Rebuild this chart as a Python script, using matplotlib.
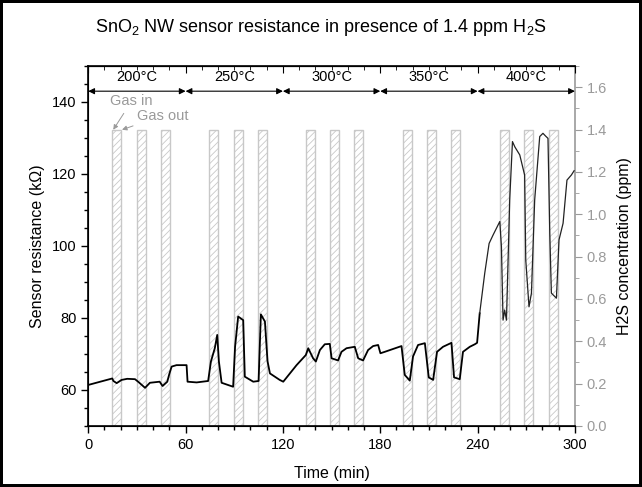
import numpy as np
import matplotlib
matplotlib.use('Agg')
from matplotlib import pyplot as plt
from matplotlib.ticker import MultipleLocator

plt.rcParams['font.family'] = ['Liberation Sans', 'DejaVu Sans']
plt.rcParams['mathtext.default'] = 'regular'
plt.rcParams['hatch.linewidth'] = 0.6

# resistance trace (time in min, resistance in kOhm)
t_min = [0, 14.8, 15.5, 17.5, 20.6, 24, 28.8, 31, 35, 38, 44, 45.8, 48.7, 50, 51.4, 54.4, 60.6,
         61.2, 66.8, 73.9, 75.6, 78, 79.5, 80.5, 82.2, 89.3, 90.5, 92.4, 95.5, 96.5, 101.7,
         105, 106.4, 108.9, 110.5, 112, 118, 120.2, 124.3, 128.4, 134.1, 135.6, 138.6,
         140.3, 142.8, 145.8, 148.9, 150, 154, 156.1, 159.2, 164.3, 166.4, 169.4, 172.5,
         175.6, 178.7, 180.1, 182.8, 193.1, 195.1, 198.2, 200.2, 203.3, 207.5, 209.9, 212.6,
         215, 218.7, 223.9, 225.5, 229, 231, 235.2, 238.3, 239.7, 241.3, 244.4, 247.1, 249.5,
         253.7, 254.7, 255.7, 256.7, 257.8, 259.8, 261.5, 263, 266, 269, 269.7, 271.7, 273.2,
         275.2, 278.3, 280.3, 282, 283.4, 284.5, 285.5, 288.6, 290.2, 292.7, 295.1, 297.8,
         299.5]
res_kohm = [61.4, 63.2, 62.5, 61.9, 62.8, 63.1, 63.0, 62.2, 60.6, 62.0, 62.3, 61.1, 62.3, 64.5,
            66.5, 66.9, 66.9, 62.3, 62.1, 62.5, 67.9, 71.6, 75.3, 68.0, 62.0, 60.9, 72.0,
            80.4, 79.4, 63.7, 62.3, 62.5, 81.0, 79.0, 68.0, 64.6, 62.8, 62.3, 64.6, 66.9,
            69.7, 71.6, 68.8, 67.9, 71.1, 72.7, 72.8, 68.8, 68.2, 70.6, 71.6, 72.0, 68.8,
            68.2, 71.1, 72.2, 72.5, 70.2, 70.6, 72.2, 64.2, 62.6, 69.3, 72.5, 73.0, 63.5,
            62.8, 70.6, 72.0, 73.1, 63.5, 63.0, 70.6, 72.0, 72.7, 73.1, 81.3, 92.4, 100.7,
            103.0, 106.8, 99.8, 79.4, 82.2, 79.4, 112.8, 129.0, 127.5, 125.3, 119.7, 96.1,
            83.1, 86.9, 112.8, 130.4, 131.3, 130.5, 129.9, 103.5, 86.9, 85.5, 101.7, 106.3,
            118.3, 119.7, 120.9]

# gas pulses (start time, min) and H2S concentration
gas_start = [14.8, 29.8, 44.8, 74.6, 89.6, 104.6, 134.1, 149.1, 164.1,
             194.1, 208.9, 223.9, 254.1, 268.9, 284.0]
gas_width = 5.5
gas_ppm = 1.4

temps = ['200°C', '250°C', '300°C', '350°C', '400°C']
temp_edges = [0, 60, 120, 180, 240, 300]

fig = plt.figure(figsize=(6.42, 4.87), dpi=100)
fig.patch.set_edgecolor('black')
fig.patch.set_linewidth(3)
ax = fig.add_axes((0.1375, 0.1253, 0.758, 0.7392))
ax2 = ax.twinx()

grey = '#9a9a9a'

# gas pulses on the ppm axis, drawn behind the trace
ax2.bar(gas_start, [gas_ppm] * len(gas_start), width=gas_width, align='edge',
        facecolor='none', edgecolor='#c8c8c8', hatch='/////', linewidth=1.0)
ax2.set_ylim(0, 1.7)
ax2.yaxis.set_major_locator(MultipleLocator(0.2))
ax2.yaxis.set_minor_locator(MultipleLocator(0.1))
ax2.tick_params(axis='y', which='both', colors=grey, labelsize=10.5, direction='out')
ax2.tick_params(axis='y', which='major', length=5)
ax2.tick_params(axis='y', which='minor', length=3)
ax2.yaxis.set_major_formatter(matplotlib.ticker.FormatStrFormatter('%.1f'))
ax2.spines['right'].set_color(grey)
ax2.spines['right'].set_linewidth(1.2)
ax2.set_ylabel('H2S concentration (ppm)', fontsize=11.5, labelpad=7)

ax.set_zorder(ax2.get_zorder() + 1)
ax.patch.set_visible(False)
split = 77  # index where the 400 C segment starts; thinner trace there
ax.plot(t_min[:split], res_kohm[:split], color='black', linewidth=1.3)
ax.plot(t_min[split - 1:], res_kohm[split - 1:], color='#222222', linewidth=0.9)

ax.set_xlim(0, 300)
ax.set_ylim(50, 150)
ax.xaxis.set_major_locator(MultipleLocator(60))
ax.xaxis.set_minor_locator(MultipleLocator(10))
ax.set_yticks([60, 80, 100, 120, 140])
ax.yaxis.set_minor_locator(MultipleLocator(5))
ax.tick_params(which='both', direction='out', labelsize=10.5, width=1)
ax.tick_params(which='major', length=5)
ax.tick_params(which='minor', length=3)
ax.tick_params(axis='y', right=False)
ax.spines['right'].set_visible(False)
for s in ['left', 'bottom', 'top']:
    ax.spines[s].set_linewidth(1.2)
ax.set_xlabel('Time (min)', fontsize=11.5, labelpad=10)
ax.set_ylabel('Sensor resistance (k\u03a9)', fontsize=11.5, labelpad=5)

# top ticks pointing inward
top = ax.secondary_xaxis('top')
top.xaxis.set_major_locator(MultipleLocator(60))
top.xaxis.set_minor_locator(MultipleLocator(10))
top.tick_params(which='both', direction='in', labeltop=False)
top.tick_params(which='major', length=5)
top.tick_params(which='minor', length=3)

# temperature segments
for i, name in enumerate(temps):
    a, b = temp_edges[i], temp_edges[i + 1]
    ax.annotate('', xy=(b, 143), xytext=(a, 143),
                arrowprops=dict(arrowstyle='<|-|>', color='black', lw=0.8,
                                shrinkA=0, shrinkB=0, mutation_scale=9))
    ax.text((a + b) / 2, 145.0, name, ha='center', va='bottom', fontsize=10.5)

ax.annotate('Gas in', xy=(15.4, 132.3), xytext=(13.6, 140.2), color=grey, fontsize=10.5,
            ha='left', va='center',
            arrowprops=dict(arrowstyle='-|>', color=grey, lw=0.7, mutation_scale=7,
                            shrinkA=2, shrinkB=0))
ax.annotate('Gas out', xy=(20.8, 132.3), xytext=(30.0, 136.2), color=grey, fontsize=10.5,
            ha='left', va='center',
            arrowprops=dict(arrowstyle='-|>', color=grey, lw=0.7, mutation_scale=7,
                            shrinkA=1, shrinkB=0))

fig.text(0.5, 0.943, 'SnO$_2$ NW sensor resistance in presence of 1.4 ppm H$_2$S',
         ha='center', va='center', fontsize=13)

fig.savefig('out.png', dpi=100)
